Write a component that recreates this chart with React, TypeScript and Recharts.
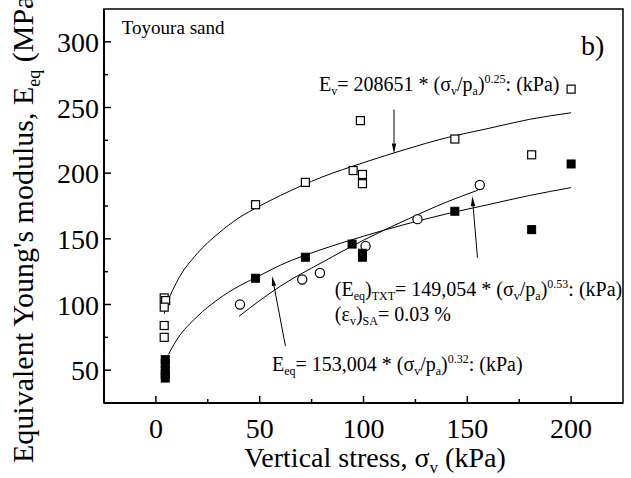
import React from 'react';
import {
  ComposedChart,
  XAxis,
  YAxis,
  Scatter,
  Line,
  ReferenceArea,
  ReferenceLine,
  ReferenceDot,
} from 'recharts';

const FONT = '"Liberation Serif", "Times New Roman", Times, serif';

// vertical stress (kPa) ticks, major every 50
const xTicks = [0, 25, 50, 75, 100, 125, 150, 175, 200];
// modulus (MPa) ticks, major every 50
const yTicks = [50, 75, 100, 125, 150, 175, 200, 225, 250, 275, 300];

// E_v measurements (open squares)
const evPoints = [
  { x: 4, y: 105 }, { x: 4.7, y: 103 }, { x: 4, y: 98 }, { x: 4, y: 84 }, { x: 4, y: 75 },
  { x: 48, y: 176 }, { x: 72, y: 193 }, { x: 95, y: 202 }, { x: 99.5, y: 199 },
  { x: 99.5, y: 192 }, { x: 98.5, y: 240 }, { x: 144, y: 226 }, { x: 181, y: 214 },
  { x: 200, y: 264 },
];

// E_eq measurements (filled squares)
const eqPoints = [
  { x: 4.5, y: 58 }, { x: 4.5, y: 55 }, { x: 4.5, y: 50 }, { x: 4.5, y: 47 }, { x: 4.5, y: 44 },
  { x: 48, y: 120 }, { x: 72, y: 136 }, { x: 94.5, y: 146 }, { x: 99.5, y: 139 },
  { x: 99.5, y: 136 }, { x: 144, y: 171 }, { x: 181, y: 157 }, { x: 200, y: 207 },
];

// triaxial (TXT) measurements (open circles)
const txtPoints = [
  { x: 40.5, y: 100 }, { x: 70.5, y: 119 }, { x: 79, y: 124 }, { x: 101, y: 144.5 },
  { x: 126, y: 165 }, { x: 156, y: 191 },
];

// fitted curves
const evFit = [
  { x: 4, y: 93 }, { x: 6, y: 103 }, { x: 10, y: 117 }, { x: 20, y: 139 }, { x: 30, y: 154 },
  { x: 40, y: 166 }, { x: 50, y: 175 }, { x: 60, y: 183 }, { x: 80, y: 197 }, { x: 100, y: 208 },
  { x: 120, y: 218 }, { x: 140, y: 227 }, { x: 160, y: 234 }, { x: 180, y: 241 }, { x: 200, y: 246 },
];
const eqFit = [
  { x: 6, y: 62 }, { x: 10, y: 73 }, { x: 20, y: 91 }, { x: 30, y: 104 }, { x: 40, y: 114 },
  { x: 50, y: 122 }, { x: 60, y: 130 }, { x: 80, y: 142 }, { x: 100, y: 152 }, { x: 120, y: 161 },
  { x: 140, y: 169 }, { x: 160, y: 176 }, { x: 180, y: 183 }, { x: 200, y: 189 },
];
const txtFit = [
  { x: 40, y: 91 }, { x: 50, y: 103 }, { x: 60, y: 114 }, { x: 80, y: 132 }, { x: 100, y: 149 },
  { x: 120, y: 164 }, { x: 140, y: 178 }, { x: 155, y: 187 },
];

type Part = { t: string; sub?: boolean; sup?: boolean };

// text with sub/superscripts built from tspans
const Rich = ({ x, y, parts, size, anchor = 'start', transform }: {
  x: number; y: number; parts: Part[]; size: number; anchor?: string; transform?: string;
}) => {
  let shift = 0;
  const small = Math.round(size * 0.6);
  return (
    <text x={x} y={y} fontSize={size} fontFamily={FONT} textAnchor={anchor} fill="#000" transform={transform}>
      {parts.map((p, i) => {
        const target = p.sub ? size * 0.22 : p.sup ? -size * 0.4 : 0;
        const dy = target - shift;
        shift = target;
        return (
          <tspan key={i} dy={dy} fontSize={p.sub || p.sup ? small : size}>
            {p.t}
          </tspan>
        );
      })}
    </text>
  );
};

const evLabel: Part[] = [
  { t: 'E' }, { t: 'v', sub: true }, { t: '= 208651 * (σ' }, { t: 'v', sub: true }, { t: '/p' },
  { t: 'a', sub: true }, { t: ')' }, { t: '0.25', sup: true }, { t: ': (kPa)' },
];
const txtLabel: Part[] = [
  { t: '(E' }, { t: 'eq', sub: true }, { t: ')' }, { t: 'TXT', sub: true }, { t: '= 149,054 * (σ' },
  { t: 'v', sub: true }, { t: '/p' }, { t: 'a', sub: true }, { t: ')' }, { t: '0.53', sup: true },
  { t: ': (kPa)' },
];
const strainLabel: Part[] = [
  { t: '(ε' }, { t: 'v', sub: true }, { t: ')' }, { t: 'SA', sub: true }, { t: '= 0.03 %' },
];
const eqLabel: Part[] = [
  { t: 'E' }, { t: 'eq', sub: true }, { t: '= 153,004 * (σ' }, { t: 'v', sub: true }, { t: '/p' },
  { t: 'a', sub: true }, { t: ')' }, { t: '0.32', sup: true }, { t: ': (kPa)' },
];

const OpenSquare = (p: any) => (
  <rect x={p.cx - 4} y={p.cy - 4} width={8} height={8} fill="#fff" stroke="#000" strokeWidth={1.2} />
);
const FilledSquare = (p: any) => (
  <rect x={p.cx - 4} y={p.cy - 4} width={8} height={8} fill="#000" stroke="#000" strokeWidth={1} />
);
const OpenCircle = (p: any) => (
  <circle cx={p.cx} cy={p.cy} r={4.6} fill="#fff" stroke="#000" strokeWidth={1.2} />
);

const Arrow = (p: any) => {
  const { x1, y1, x2, y2 } = p;
  const a = Math.atan2(y2 - y1, x2 - x1);
  const len = 10;
  const half = 2.2;
  const bx = x2 - len * Math.cos(a);
  const by = y2 - len * Math.sin(a);
  const nx = -Math.sin(a) * half;
  const ny = Math.cos(a) * half;
  return (
    <g>
      <line x1={x1} y1={y1} x2={bx} y2={by} stroke="#000" strokeWidth={1} />
      <polygon points={`${x2},${y2} ${bx + nx},${by + ny} ${bx - nx},${by - ny}`} fill="#000" />
    </g>
  );
};

const XTick = (p: any) => {
  const { x, y, payload } = p;
  const major = payload.value % 50 === 0;
  return (
    <g>
      <line x1={x} y1={y} x2={x} y2={y - (major ? 7 : 4)} stroke="#000" strokeWidth={1.5} />
      {major && (
        <text x={x} y={y + 35} textAnchor="middle" fontSize={28} fontFamily={FONT} fill="#000">
          {payload.value}
        </text>
      )}
    </g>
  );
};

const YTick = (p: any) => {
  const { x, y, payload } = p;
  const major = payload.value % 50 === 0;
  return (
    <g>
      <line x1={x} y1={y} x2={x + (major ? 7 : 4)} y2={y} stroke="#000" strokeWidth={1.5} />
      {major && (
        <text x={x - 5} y={y + 10} textAnchor="end" fontSize={28} fontFamily={FONT} fill="#000">
          {payload.value}
        </text>
      )}
    </g>
  );
};

const note = (parts: Part[], size = 20) => (p: any) => <Rich x={p.cx} y={p.cy} parts={parts} size={size} />;

export default function App() {
  return (
    <div style={{ position: 'absolute', left: 0, top: 0, width: 631, height: 478, background: '#fff' }}>
      <ComposedChart width={631} height={478} margin={{ top: 9, right: 8, bottom: 0, left: 0 }}>
        <XAxis
          type="number"
          dataKey="x"
          domain={[-25, 225]}
          ticks={xTicks}
          interval={0}
          allowDataOverflow
          height={75}
          tickSize={0}
          tickMargin={0}
          tickLine={false}
          tick={<XTick />}
          axisLine={{ stroke: '#000', strokeWidth: 2 }}
          label={() => (
            <Rich
              x={375}
              y={467}
              anchor="middle"
              size={28}
              parts={[{ t: 'Vertical stress, σ' }, { t: 'v', sub: true }, { t: ' (kPa)' }]}
            />
          )}
        />
        <YAxis
          type="number"
          dataKey="y"
          domain={[25, 325]}
          ticks={yTicks}
          interval={0}
          allowDataOverflow
          width={104}
          tickSize={0}
          tickMargin={0}
          tickLine={false}
          tick={<YTick />}
          axisLine={{ stroke: '#000', strokeWidth: 2 }}
          label={() => (
            <Rich
              x={33}
              y={463}
              size={30}
              transform="rotate(-90 33 463)"
              parts={[{ t: "Equivalent Young's modulus, E" }, { t: 'eq', sub: true }, { t: ' (MPa)' }]}
            />
          )}
        />

        {/* plot frame */}
        <ReferenceArea x1={-25} x2={225} y1={25} y2={325} fill="none" stroke="#000" strokeWidth={1.5} />

        <Line data={evFit} dataKey="y" type="monotone" stroke="#000" strokeWidth={1} dot={false} isAnimationActive={false} />
        <Line data={eqFit} dataKey="y" type="monotone" stroke="#000" strokeWidth={1} dot={false} isAnimationActive={false} />
        <Line data={txtFit} dataKey="y" type="monotone" stroke="#000" strokeWidth={1} dot={false} isAnimationActive={false} />

        <Scatter data={evPoints} shape={OpenSquare} isAnimationActive={false} />
        <Scatter data={txtPoints} shape={OpenCircle} isAnimationActive={false} />
        <Scatter data={eqPoints} shape={FilledSquare} isAnimationActive={false} />

        {/* arrows pointing from equations to their curves */}
        <ReferenceLine segment={[{ x: 114.7, y: 248.5 }, { x: 114.7, y: 215 }]} shape={Arrow} />
        <ReferenceLine segment={[{ x: 154.9, y: 135.6 }, { x: 152.4, y: 182.5 }]} shape={Arrow} />
        <ReferenceLine segment={[{ x: 62.4, y: 68.3 }, { x: 56, y: 121.6 }]} shape={Arrow} />

        <ReferenceDot x={78.6} y={262.9} r={0} shape={note(evLabel)} />
        <ReferenceDot x={86.2} y={106.5} r={0} shape={note(txtLabel)} />
        <ReferenceDot x={86.2} y={87.8} r={0} shape={note(strainLabel)} />
        <ReferenceDot x={55.9} y={49.3} r={0} shape={note(eqLabel)} />
        <ReferenceDot x={-16.4} y={306.3} r={0} shape={note([{ t: 'Toyoura sand' }], 19)} />
        <ReferenceDot x={204.8} y={290.3} r={0} shape={note([{ t: 'b)' }], 28)} />
      </ComposedChart>
    </div>
  );
}
